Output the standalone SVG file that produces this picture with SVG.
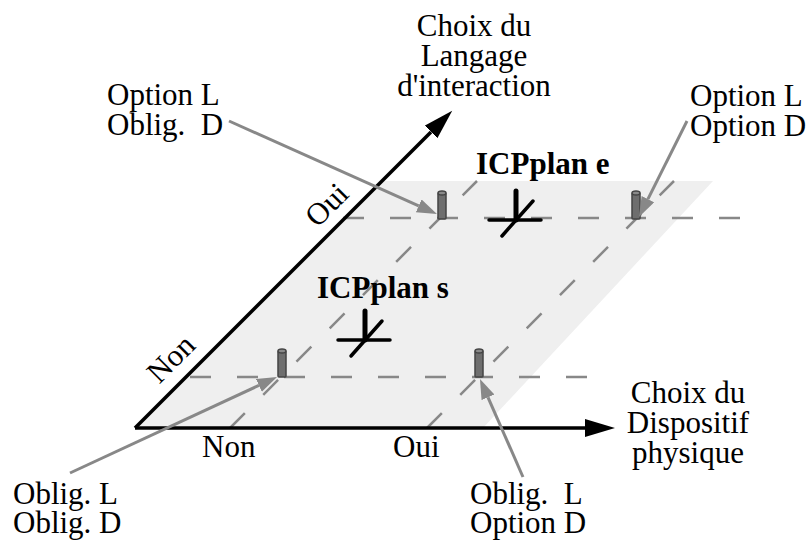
<svg xmlns="http://www.w3.org/2000/svg" width="812" height="541" viewBox="0 0 812 541">
<style>
text{font-family:"Liberation Serif","Times New Roman",serif;font-size:31px;fill:#000;white-space:pre}
.b{font-weight:bold}
.mid{text-anchor:middle}
.axis{stroke:#000;stroke-width:3.5;fill:none}
.dash{stroke:#888;stroke-width:2.5;stroke-dasharray:21 26;fill:none}
.call{stroke:#888;stroke-width:3;fill:none}
.pillar rect{fill:#6e6e6e;stroke:#444;stroke-width:1.5}
.pillar ellipse{fill:#8a8a8a;stroke:#444;stroke-width:1.5}
.cross line{stroke:#000;stroke-linecap:round}
</style>
<defs>
<marker id="ah" markerUnits="userSpaceOnUse" markerWidth="32" markerHeight="20" refX="0" refY="9" orient="auto"><path d="M0,0 L30,9 L0,18 z" fill="#000"/></marker>
<marker id="gh" markerUnits="userSpaceOnUse" markerWidth="22" markerHeight="16" refX="0" refY="7" orient="auto"><path d="M0,0 L20,7 L0,14 z" fill="#888"/></marker>
<g id="pil" class="pillar"><rect x="-4" y="-26" width="8" height="26" rx="1"/><ellipse cx="0" cy="-26" rx="4" ry="2"/></g>
<g id="crs" class="cross"><line x1="-27" y1="0" x2="25" y2="0" stroke-width="3.5"/><line x1="0" y1="-29" x2="0" y2="0" stroke-width="5"/><line x1="17" y1="-19" x2="-14" y2="16" stroke-width="3.5"/></g>
</defs>
<g id="plane">
<polygon points="382,181 713,181 483,428 135,428" fill="#efefef"/>
</g>
<g id="grid">
<line class="dash" x1="343" y1="218" x2="745" y2="218"/>
<line class="dash" x1="190" y1="377" x2="588" y2="377"/>
<line class="dash" x1="230" y1="428" x2="477" y2="181"/>
<line class="dash" x1="427" y1="428" x2="674" y2="181"/>
</g>
<g id="axes">
<line class="axis" x1="135" y1="428" x2="585" y2="428" marker-end="url(#ah)"/>
<line class="axis" x1="135" y1="428" x2="431" y2="132" marker-end="url(#ah)"/>
</g>
<g id="pillar-LD"><use href="#pil" x="282" y="377"/></g>
<g id="pillar-oLD"><use href="#pil" x="479" y="377"/></g>
<g id="pillar-LoD"><use href="#pil" x="442" y="219"/></g>
<g id="pillar-oLoD"><use href="#pil" x="636" y="219"/></g>
<g id="icp-s"><use href="#crs" x="365" y="340"/><text class="b" x="317" y="298">ICPplan s</text></g>
<g id="icp-e"><use href="#crs" x="516" y="220"/><text class="b" x="476" y="174">ICPplan e</text></g>
<g id="connectors">
<line class="call" x1="229" y1="121" x2="418.7" y2="205.8" marker-end="url(#gh)"/>
<line class="call" x1="687" y1="121" x2="647.9" y2="199.1" marker-end="url(#gh)"/>
<line class="call" x1="70" y1="473" x2="258.9" y2="385.4" marker-end="url(#gh)"/>
<line class="call" x1="523" y1="477" x2="488" y2="397.3" marker-end="url(#gh)"/>
</g>
<g id="label-langage"><text class="mid" x="474" y="36">Choix du</text><text class="mid" x="474" y="66">Langage</text><text class="mid" x="474" y="96">d'interaction</text></g>
<g id="label-dispositif"><text class="mid" x="688" y="403">Choix du</text><text class="mid" x="688" y="433">Dispositif</text><text class="mid" x="688" y="463">physique</text></g>
<g id="label-tl"><text x="107" y="105">Option L</text><text x="107" y="135">Oblig.  D</text></g>
<g id="label-tr"><text x="690" y="106">Option L</text><text x="690" y="136">Option D</text></g>
<g id="label-bl"><text x="13" y="504">Oblig. L</text><text x="13" y="533">Oblig. D</text></g>
<g id="label-br"><text x="470" y="504">Oblig.  L</text><text x="470" y="533">Option D</text></g>
<g id="axis-ticks">
<text x="202" y="457">Non</text>
<text x="393" y="457">Oui</text>
<text class="mid" transform="translate(334,212) rotate(-45)">Oui</text>
<text class="mid" transform="translate(178,366) rotate(-45)">Non</text>
</g>
</svg>
